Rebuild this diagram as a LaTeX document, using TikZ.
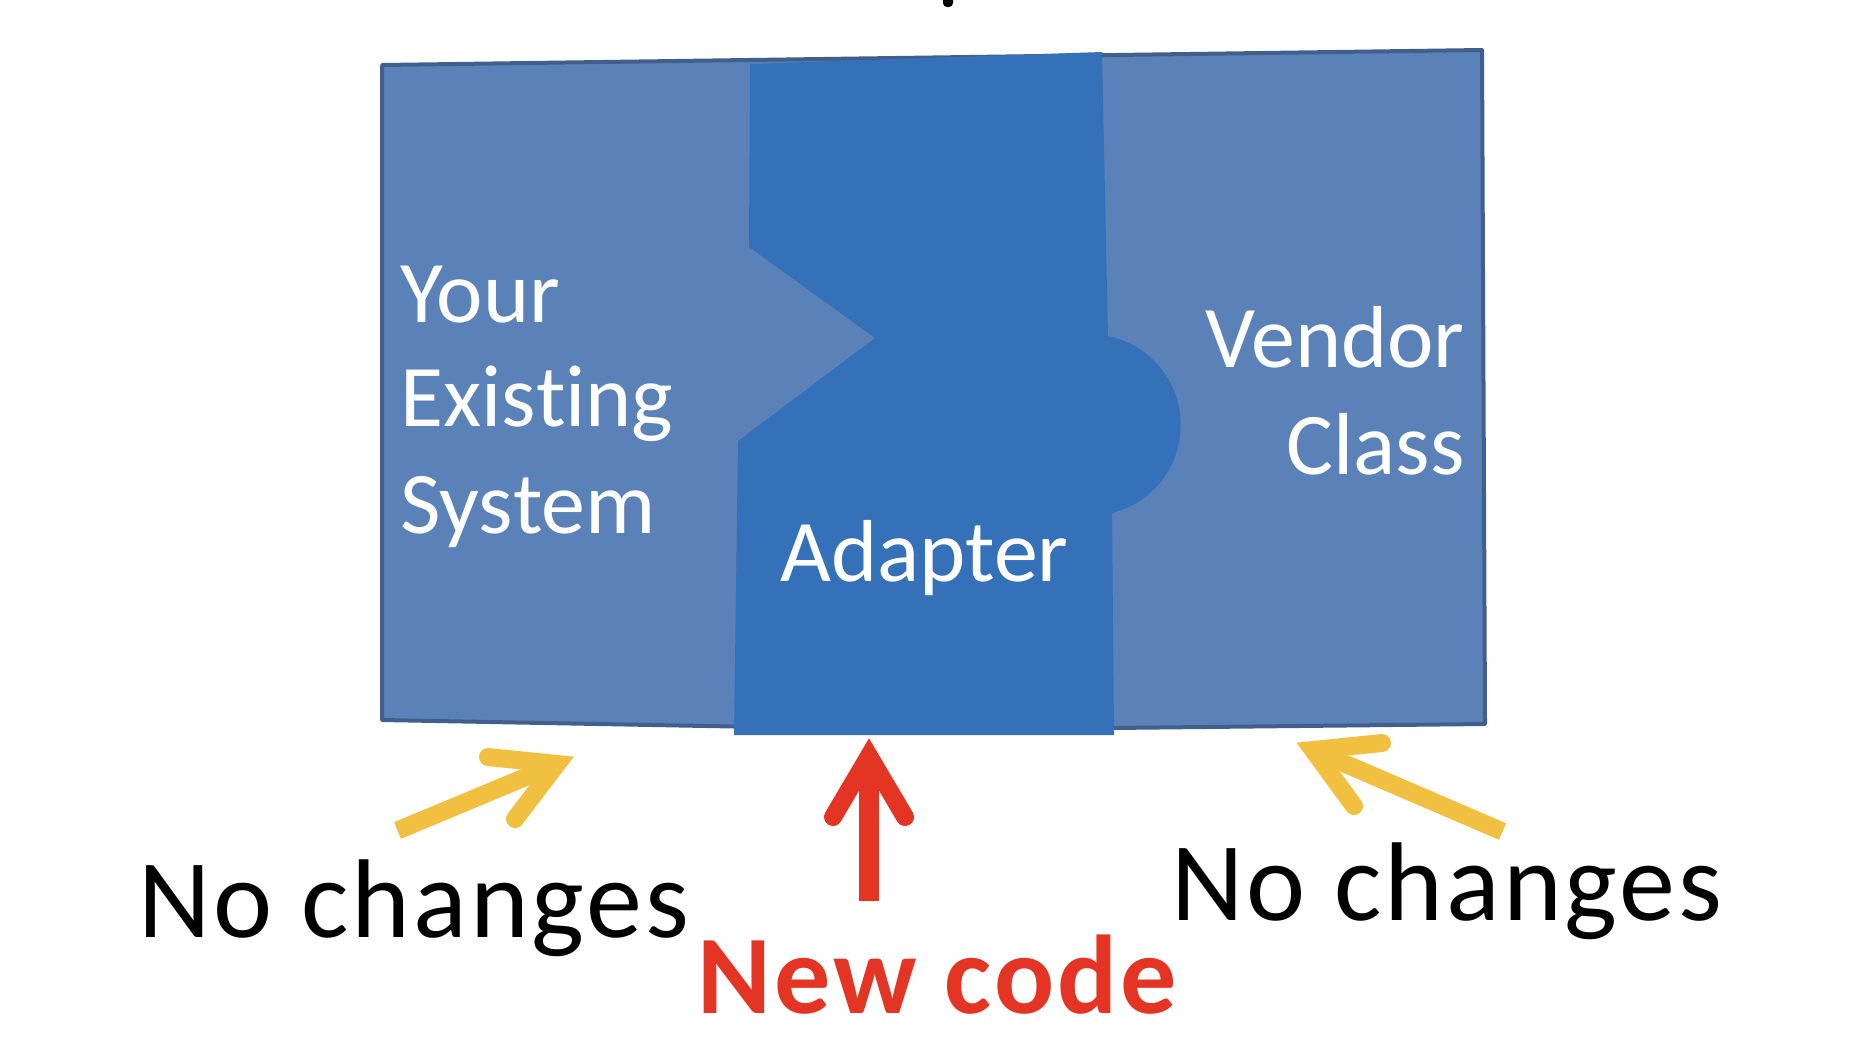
\documentclass[tikz,border=0pt]{standalone}
\usepackage{fontspec}
\setmainfont{Carlito}[Ligatures={NoCommon}]
\newfontfamily\widefont{Carlito}[Ligatures={NoCommon},LetterSpace=2.7]
\definecolor{bgblue}{HTML}{5B82B8}
\definecolor{adblue}{HTML}{3471B9}
\definecolor{edgeblue}{HTML}{415F8C}
\definecolor{arrred}{HTML}{E33424}
\definecolor{arryel}{HTML}{F2C040}
\tikzset{
  whitetxt/.style={inner sep=0pt,text=white,font=\fontsize{44}{53}\selectfont},
  blacktxt/.style={inner sep=0pt,text=black,font=\widefont\fontsize{56}{67}\selectfont},
  redtxt/.style={inner sep=0pt,text=arrred,font=\widefont\bfseries\fontsize{56}{67}\selectfont},
  chevron/.style={line width=9pt,line cap=round,line join=miter,miter limit=10},
  shaft/.style={line width=9pt,line cap=butt},
}
\begin{document}
\begin{tikzpicture}[x=0.5pt,y=-0.5pt]
\useasboundingbox (0,0) rectangle (1866,1040);
% cut-off fragment at top
\fill[black,rounded corners=2pt] (943,-5) rectangle (953,7);
% background piece
\filldraw[fill=bgblue,draw=edgeblue,line width=2pt,line join=round]
  (382,65) -- (1482,50) -- (1485,724) -- (924,730) -- (382,720) -- cycle;
% adapter piece
\fill[adblue] (750,64) -- (1102,52) -- (1108,336) -- (1112,513) -- (1114,735)
  -- (734,735) -- (738,441) -- (875,338) -- (749,247) -- cycle;
\fill[adblue] (1090,425) circle[radius=90.7];
% texts
\node[whitetxt,anchor=base west] (your) at (400,322) {Your};
\node[whitetxt,anchor=base west] (exist) at (400,426) {Exis\kern0pt ting};
\node[whitetxt,anchor=base west] (sys) at (400,533) {Sys\kern0pt tem};
\node[whitetxt,anchor=base east] (vendor) at (1465,367) {Vendor};
\node[whitetxt,anchor=base east] (class) at (1465,474) {Class};
\node[whitetxt,anchor=base west] (adapter) at (780,581) {Adapter};
\node[blacktxt,anchor=base west] (ncl) at (138,937) {No changes};
\node[blacktxt,anchor=base west] (ncr) at (1171,920) {No changes};
\node[redtxt,anchor=base west] (newcode) at (697,1013) {New code};
% red arrow
\coordinate (rtip) at (869,756);
\coordinate (rb1) at (833,817);
\coordinate (rb2) at (905,817);
\coordinate (rs) at (869,901);
\draw[arrred,line width=10pt,line cap=butt] (rs) -- (rtip);
\draw[arrred,chevron] (rb1) -- (rtip) -- (rb2);
% left yellow arrow
\coordinate (ltip) at (557,764);
\coordinate (lb1) at (488,757);
\coordinate (lb2) at (515,819);
\coordinate (ls) at (397.5,830.5);
\draw[arryel,shaft] (ls) -- (ltip);
\draw[arryel,chevron] (lb1) -- (ltip) -- (lb2);
% right yellow arrow
\coordinate (qtip) at (1313,750);
\coordinate (qb1) at (1382,743);
\coordinate (qb2) at (1354,806);
\coordinate (qs) at (1502.5,831.5);
\draw[arryel,shaft] (qs) -- (qtip);
\draw[arryel,chevron] (qb1) -- (qtip) -- (qb2);
\end{tikzpicture}
\end{document}
